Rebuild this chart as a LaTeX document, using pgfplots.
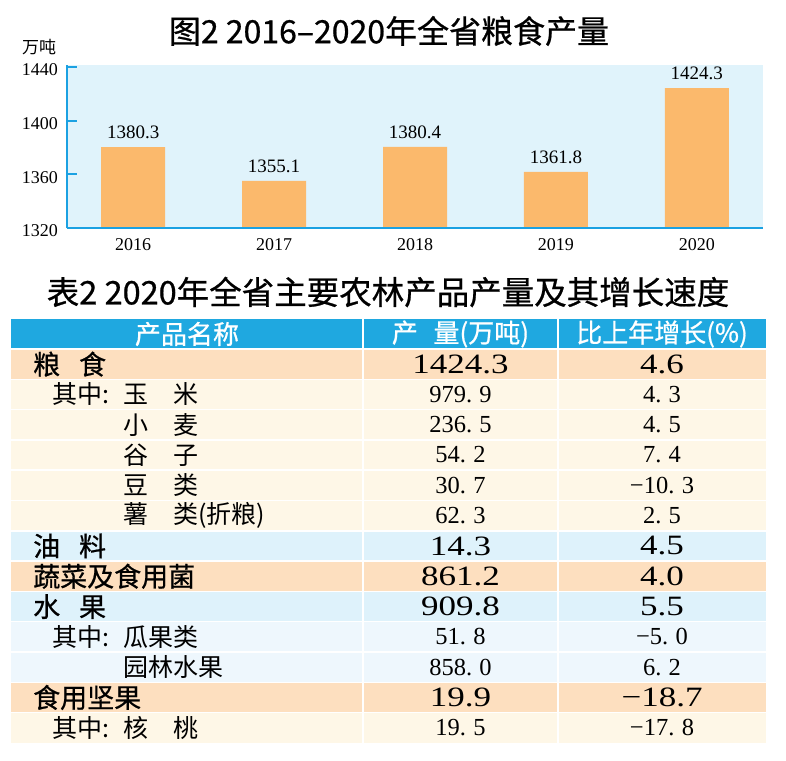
\documentclass[border=0pt]{standalone}
\usepackage{fontspec}
\setmainfont{Liberation Serif}
\newfontfamily\cjk{Noto Sans CJK SC}
\newfontfamily\cjkb[FakeBold=0.7]{Noto Sans CJK SC}
\newfontfamily\numwide[FakeStretch=1.25]{Liberation Serif}
\usepackage{pgfplots}
\pgfplotsset{compat=1.18}

\definecolor{axblue}{HTML}{1BA1E2}
\definecolor{plotbg}{HTML}{E0F3FB}
\definecolor{barorange}{HTML}{FBB96C}
\definecolor{hdrblue}{HTML}{1FA8E0}
\definecolor{peach}{HTML}{FDDFBF}
\definecolor{cream}{HTML}{FEF7E7}
\definecolor{ltblue}{HTML}{DEF2FB}
\definecolor{paleblue}{HTML}{EEF7FD}

\newcommand\fs[1]{\fontsize{#1}{#1}\selectfont}
\newcommand\dd{.\kern0.3em}
% row band: index, colour
\newcommand\band[2]{\fill[#2] (11,{-(349+30.3*#1)}) rectangle (766,{-(349+30.3*(#1+1))});}
% main row: index, name, amount, growth
\newcommand\mainrow[4]{%
  \node[anchor=west,inner sep=0pt,font=\cjkb\fs{27}] at (33,{-(364.15+30.3*#1)}) {#2};
  \node[inner sep=0pt,font=\numwide\fs{28}] at (460.5,{-(364.15+30.3*#1)}) {#3};
  \node[inner sep=0pt,font=\numwide\fs{28}] at (662,{-(364.15+30.3*#1)}) {#4};}
% sub row: index, prefix, name, amount, growth
\newcommand\subrow[5]{%
  \node[anchor=west,inner sep=0pt,font=\cjk\fs{25}] at (52,{-(364.15+30.3*#1)}) {#2};
  \node[anchor=west,inner sep=0pt,font=\cjk\fs{25}] at (123,{-(364.15+30.3*#1)}) {#3};
  \node[inner sep=0pt,font=\rmfamily\fs{24.5}] at (460.5,{-(364.15+30.3*#1)}) {#4};
  \node[inner sep=0pt,font=\rmfamily\fs{24.5}] at (662,{-(364.15+30.3*#1)}) {#5};}

\begin{document}
\begin{tikzpicture}[x=1pt,y=1pt]
\useasboundingbox (0,0) rectangle (786,-760);

\node[font=\cjkb\fs{32}] at (389,-31) {图2 2016–2020年全省粮食产量};
\node[font=\cjk\fs{17}] at (39,-47) {万吨};

\begin{axis}[
    at={(67pt,-228pt)}, anchor=south west,
    scale only axis, width=696pt, height=163pt,
    ybar, bar width=64pt,
    xmin=-0.47, xmax=4.47, ymin=1320, ymax=1441.5,
    xtick=data, xticklabels={2016,2017,2018,2019,2020},
    ytick={1320,1360,1400,1440},
    axis x line*=bottom, axis y line*=left,
    axis line style={draw=axblue, line width=2.5pt},
    axis background/.style={fill=plotbg},
    axis on top,
    tick align=inside, major tick length=10pt,
    ytick style={draw=axblue, line width=2pt},
    xtick style={draw=none},
    ticklabel style={font=\fs{18}},
    /pgf/number format/assume math mode=true,
    /pgf/number format/1000 sep={},
    yticklabel style={inner sep=0pt, xshift=-9pt, yshift=-3pt},
    xticklabel style={inner sep=0pt, yshift=-10pt},
    point meta=explicit symbolic,
    nodes near coords,
    nodes near coords style={font=\fs{19}, inner sep=0pt, anchor=south, yshift=8pt},
  ]
\addplot[fill=barorange, draw=none] coordinates {
  (0,1380.3) [1380.3]
  (1,1355.1) [1355.1]
  (2,1380.4) [1380.4]
  (3,1361.8) [1361.8]
  (4,1424.3) [1424.3]
};
\end{axis}

\node[font=\cjkb\fs{32.5}] at (388,-292) {表2 2020年全省主要农林产品产量及其增长速度};

% header
\fill[hdrblue] (11,-319) rectangle (766,-349);
\band{0}{peach}
\band{1}{cream}\band{2}{cream}\band{3}{cream}\band{4}{cream}\band{5}{cream}
\band{6}{ltblue}
\band{7}{peach}
\band{8}{ltblue}
\band{9}{paleblue}\band{10}{paleblue}
\band{11}{peach}
\band{12}{cream}
\foreach \i in {0,...,12} {\draw[white, line width=1.5pt] (11,{-(349+30.3*\i)}) -- (766,{-(349+30.3*\i)});}
\draw[white, line width=1.5pt] (363,-319) -- (363,-743);
\draw[white, line width=1.5pt] (558,-319) -- (558,-743);

\node[white, font=\cjkb\fs{26}] at (187,-334) {产品名称};
\node[white, font=\cjkb\fs{26}] at (460.5,-334) {产\hspace{0.6em}量(万吨)};
\node[white, font=\cjkb\fs{26}] at (662,-334) {比上年增长(\%)};

\mainrow{0}{粮\hspace{0.7em}食}{1424.3}{4.6}
\subrow{1}{其中:}{玉　米}{979\dd9}{4\dd3}
\subrow{2}{}{小　麦}{236\dd5}{4\dd5}
\subrow{3}{}{谷　子}{54\dd2}{7\dd4}
\subrow{4}{}{豆　类}{30\dd7}{−10\dd3}
\subrow{5}{}{薯　类(折粮)}{62\dd3}{2\dd5}
\mainrow{6}{油\hspace{0.7em}料}{14.3}{4.5}
\mainrow{7}{蔬菜及食用菌}{861.2}{4.0}
\mainrow{8}{水\hspace{0.7em}果}{909.8}{5.5}
\subrow{9}{其中:}{瓜果类}{51\dd8}{−5\dd0}
\subrow{10}{}{园林水果}{858\dd0}{6\dd2}
\mainrow{11}{食用坚果}{19.9}{−18.7}
\subrow{12}{其中:}{核　桃}{19\dd5}{−17\dd8}
\end{tikzpicture}
\end{document}
